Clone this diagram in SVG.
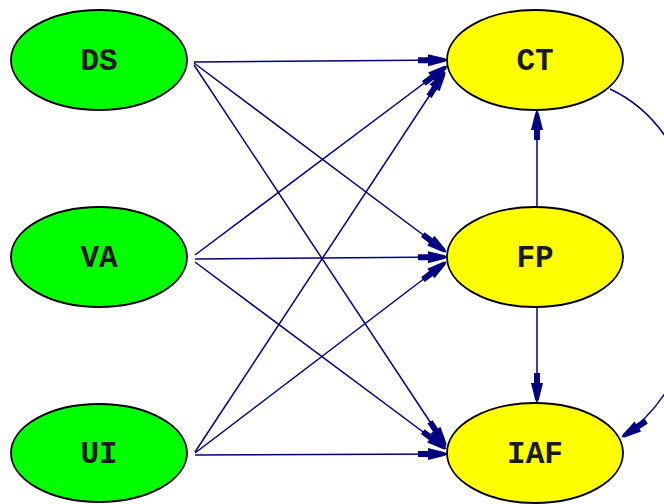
<svg xmlns="http://www.w3.org/2000/svg" width="664" height="504" viewBox="0 0 664 504">
<style>
.src ellipse{fill:#00ff00;stroke:#000;stroke-width:1.8}
.dst ellipse{fill:#ffff00;stroke:#000;stroke-width:1.8}
text{font-family:"Liberation Mono","Courier New",monospace;font-size:31px;font-weight:bold;fill:#1a1a1a;text-anchor:middle;dominant-baseline:central}
#edges path{fill:none;stroke:#000080;stroke-width:1.5;marker-end:url(#ah)}
</style>
<defs>
<marker id="ah" markerUnits="userSpaceOnUse" viewBox="-30 -7 31 14" refX="0" refY="0" markerWidth="31" markerHeight="14" orient="auto" overflow="visible">
<path d="M-29,-3 L-19,-3 L-19,-6 L-2,-1.8 L0,0 L-2,1.8 L-19,6 L-19,3 L-29,3 Z" fill="#000080"/>
</marker>
</defs>
<g id="edges">
<path d="M194,62 L447,60"/>
<path d="M194,63 L446,252"/>
<path d="M194,65 L446,446"/>
<path d="M195,255 L447,66"/>
<path d="M195,259 L447,257"/>
<path d="M195,262 L446,449"/>
<path d="M195,452 L445,72"/>
<path d="M195,453 L446,262"/>
<path d="M195,455 L447,454"/>
<path d="M537,207 L537,111"/>
<path d="M537,308 L537,402"/>
<path d="M610,89 C730,145 730,365 622,437"/>
</g>
<g id="DS" class="src"><ellipse cx="99" cy="60" rx="88" ry="50"/><text x="99" y="61">DS</text></g>
<g id="VA" class="src"><ellipse cx="99" cy="257" rx="88" ry="50"/><text x="99" y="258">VA</text></g>
<g id="UI" class="src"><ellipse cx="99" cy="453" rx="88" ry="49"/><text x="99" y="454">UI</text></g>
<g id="CT" class="dst"><ellipse cx="535" cy="60" rx="88" ry="50"/><text x="535" y="61">CT</text></g>
<g id="FP" class="dst"><ellipse cx="535" cy="257" rx="88" ry="50"/><text x="535" y="258">FP</text></g>
<g id="IAF" class="dst"><ellipse cx="535" cy="453" rx="88" ry="50"/><text x="535" y="454">IAF</text></g>
</svg>
